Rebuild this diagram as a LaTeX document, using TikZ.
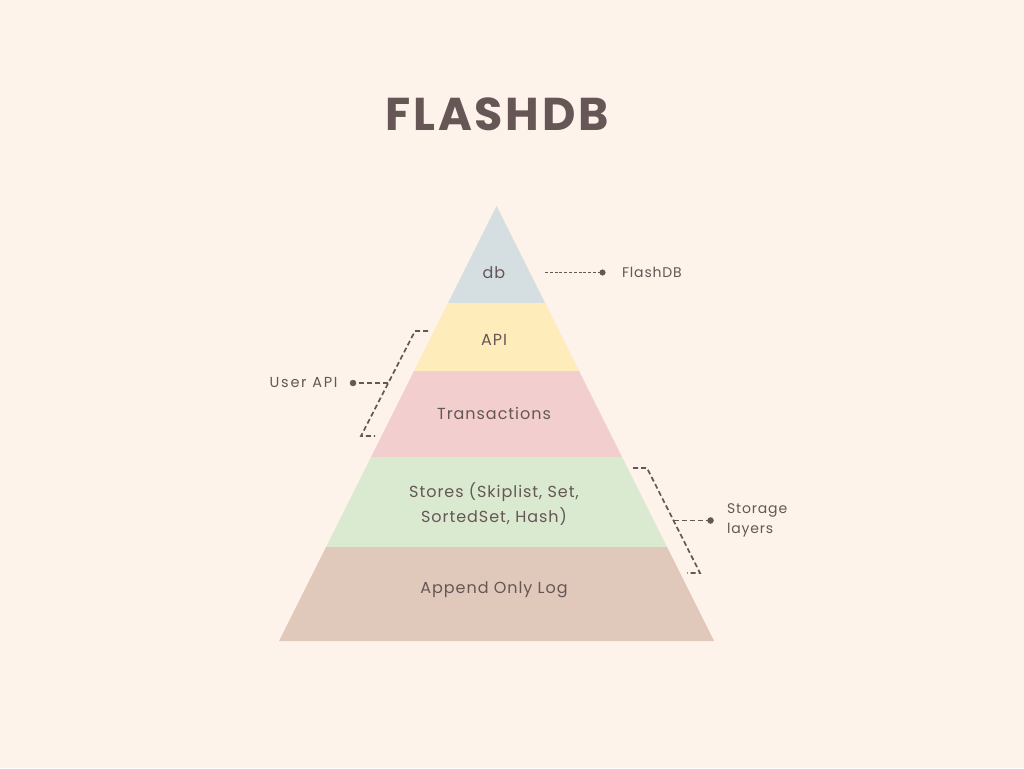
\documentclass[tikz,border=0pt]{standalone}
\usepackage{fontspec}
\setmainfont{Poppins}[LetterSpace=6]
\usetikzlibrary{positioning}

\definecolor{bg}{HTML}{FDF3EB}
\definecolor{ink}{HTML}{665656}
\definecolor{dbfill}{HTML}{D5DEE1}
\definecolor{apifill}{HTML}{FEEDBA}
\definecolor{txfill}{HTML}{F2CECF}
\definecolor{storefill}{HTML}{D9EAD0}
\definecolor{logfill}{HTML}{E0C9BB}

\tikzset{
  lbl/.style={text=ink, font=\fontsize{16}{25}\selectfont, align=center},
  side/.style={text=ink, font=\fontsize{14}{20}\selectfont, align=left},
  brk/.style={draw=ink, line width=1.7pt, dash pattern=on 5pt off 3pt},
}

\begin{document}
\begin{tikzpicture}[x=1pt,y=-1pt]

\fill[bg] (0,0) rectangle (1024,768);
\useasboundingbox (0,0) rectangle (1024,768);

\node [text=ink, font=\fontsize{46}{46}\bfseries] (title) at (497,114) {FLASHDB};

% pyramid layers
\fill[dbfill] (496.5,206) -- (545,303) -- (448,303) -- cycle;
\fill[apifill] (448,303) -- (545,303) -- (579,371) -- (414,371) -- cycle;
\fill[txfill] (414,371) -- (579,371) -- (622,457) -- (371,457) -- cycle;
\fill[storefill] (371,457) -- (622,457) -- (667,547) -- (326,547) -- cycle;
\fill[logfill] (326,547) -- (667,547) -- (714,641) -- (279,641) -- cycle;

\node [lbl] (db) at (494,273) {db};
\node [lbl] (api) at (494,340) {API};
\node [lbl] (tx) at (494,413) {Transactions};
\node [lbl] (stores) at (494,504) {Stores (Skiplist, Set,\\SortedSet, Hash)};
\node [lbl] (log) at (494,590) {Append Only Log};

% FlashDB pointer
\coordinate (fdA) at (545,272.5);
\coordinate (fdD) at (602.5,272.5);
\draw [brk, dash pattern=on 3pt off 1.8pt, line width=1.2pt] (fdA) -- (fdD);
\filldraw [ink] (fdD) circle (2.8pt);
\node [side, anchor=west] (flashdb) at ([xshift=16pt]fdD) {FlashDB};

% user api bracket
\coordinate (uaT) at (428,331);
\coordinate (uaTc) at (415,331);
\coordinate (uaB) at (361,436);
\coordinate (uaBe) at (375,436);
\coordinate (uaM) at (388,383);
\coordinate (uaD) at (353,383);
\draw [brk] (uaT) -- (uaTc) -- (uaB) -- (uaBe);
\draw [brk] (uaM) -- (uaD);
\filldraw [ink] (uaD) circle (3pt);
\node [side, anchor=east, font=\fontsize{14.5}{20}\addfontfeatures{LetterSpace=12}] (userapi) at ([xshift=-12pt]uaD) {User API};

% storage bracket
\coordinate (stT) at (633,468);
\coordinate (stTc) at (647,468);
\coordinate (stB) at (700,573);
\coordinate (stBe) at (687,573);
\coordinate (stM) at (673.5,520.5);
\coordinate (stD) at (710.5,520.5);
\draw [brk] (stT) -- (stTc) -- (stB) -- (stBe);
\draw [brk] (stM) -- (stD);
\filldraw [ink] (stD) circle (3pt);
\node [side, anchor=west] (storage) at ([xshift=13pt]stD) {Storage\\layers};

\end{tikzpicture}
\end{document}
